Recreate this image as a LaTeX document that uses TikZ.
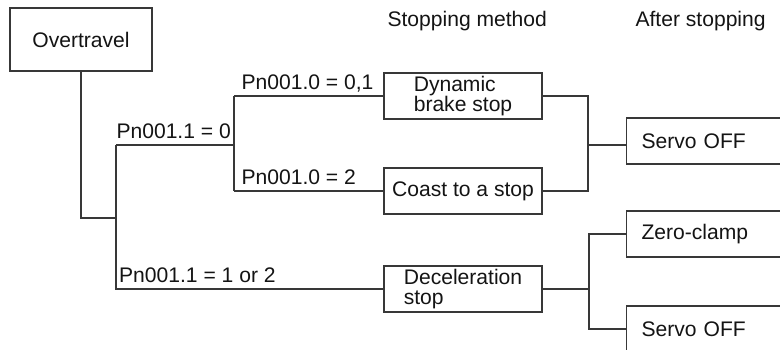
\documentclass[tikz,border=0pt]{standalone}
\usepackage{fontspec}
\setmainfont{Liberation Sans}
\usepackage{tikz}
\usetikzlibrary{calc, positioning}

\tikzset{
  methodbox/.style={draw, rectangle, align=left, inner sep=0pt,
    minimum width=3.16cm, minimum height=0.92cm},
  afterbox/.style={draw, rectangle, anchor=west, align=left, text width=2.68cm,
    inner xsep=0.3cm, inner ysep=0pt, minimum height=0.92cm},
  condlabel/.style={anchor=base west, inner sep=0pt, yshift=3.5pt}
}

\begin{document}
\begin{tikzpicture}[x=0.02cm, y=-0.02cm, line width=0.6pt, color=black!78,
    every node/.style={text=black!92}, font=\fontsize{12}{11.3}\selectfont]

    \useasboundingbox (0,0) rectangle (780,350);
    \clip (0,0) rectangle (780,350);
    % Tiêu đề cột
    \node[anchor=base west, inner sep=0pt] (headA) at (387,27) {Stopping method};
    \node[anchor=base west, inner sep=0pt] (headB) at (635,27) {After stopping};
    % Các khối
    \node[draw, minimum width=2.84cm, minimum height=1.26cm] (over) at (81,39.5) {Overtravel};
    \node[methodbox] (dyn) at (463,96) {Dynamic\\brake stop};
    \node[methodbox] (coast) at (463,191) {Coast to a stop};
    \node[methodbox] (dec) at (463,289) {Deceleration\\stop};
    \node[afterbox] (off1) at (626,141) {Servo OFF};
    \node[afterbox] (clamp) at (626,234) {Zero-clamp};
    \node[afterbox] (off2) at (626,329) {Servo OFF};
    % Điểm rẽ nhánh
    \coordinate (split) at (116,218);
    \coordinate (fork1) at (116,145);
    \coordinate (fork2) at (234,145);
    \coordinate (join1) at (588,145);
    \coordinate (join2) at (589,289);
    % Nhánh bên trái
    \draw (over.south) |- (split);
    \draw (fork1) -- (fork1 |- dec.west)
        -- node[condlabel, pos=0, xshift=1.5pt] (c2) {Pn001.1 = 1 or 2} (dec.west);
    \draw (fork1) -- node[condlabel, pos=0] (c1) {Pn001.1 = 0} (fork2);
    \draw (fork2 |- dyn.west) -- (fork2 |- coast.west);
    \draw (fork2 |- dyn.west) -- node[condlabel, pos=0, xshift=4pt] (c3) {Pn001.0 = 0,1} (dyn.west);
    \draw (fork2 |- coast.west) -- node[condlabel, pos=0, xshift=4pt] (c4) {Pn001.0 = 2} (coast.west);
    % Nhánh bên phải
    \draw (dyn.east) -| (join1) |- (coast.east);
    \draw (join1) -- (join1 -| off1.west);
    \draw (dec.east) -- (join2);
    \draw (clamp.west) -| (join2) |- (off2.west);

\end{tikzpicture}
\end{document}
